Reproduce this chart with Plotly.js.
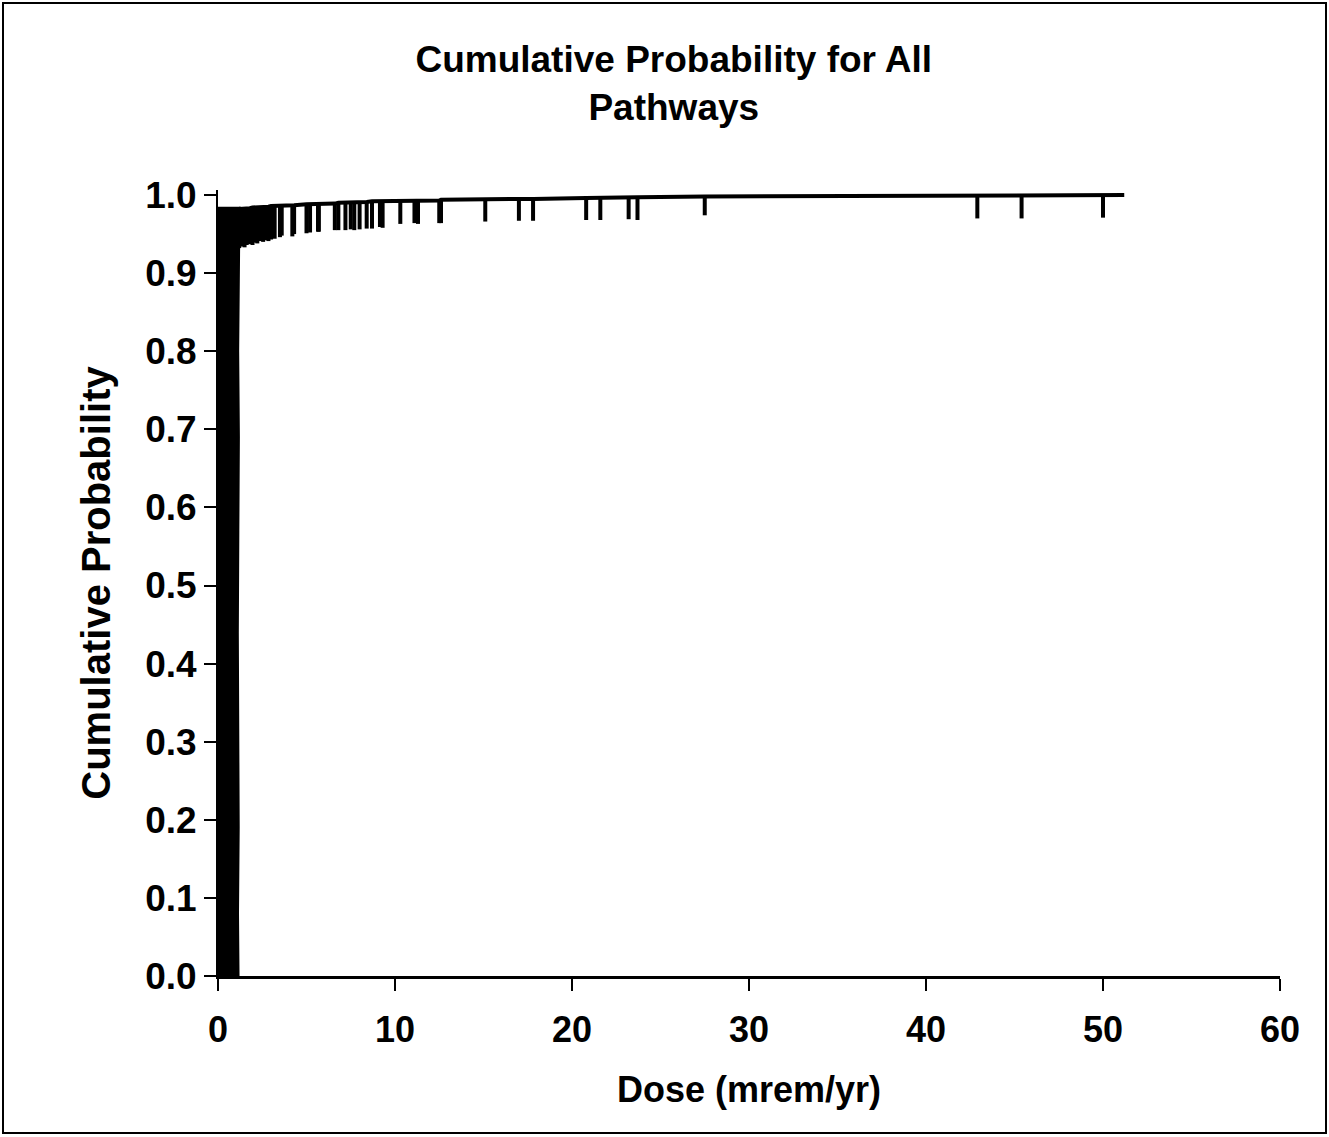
<!DOCTYPE html>
<html>
<head>
<meta charset="utf-8">
<script src="https://cdn.plot.ly/plotly-3.0.1.min.js"></script>
<style>
  html, body { margin: 0; padding: 0; background: #fff; }
  #wrap { position: relative; width: 1329px; height: 1137px; }
  #chart { width: 1329px; height: 1137px; }
  #frame { position: absolute; left: 2px; top: 2px; right: 2px; bottom: 3px;
           border: 2.5px solid #000; pointer-events: none; }
</style>
</head>
<body>
<div id="wrap">
  <div id="chart"></div>
  <div id="frame"></div>
</div>
<script>
// Low-dose samples (dense region, dose below ~1.2 mrem/yr)
const blockDose = [1.16, 1.13, 1.17, 1.14, 1.12, 1.15, 1.18, 1.14, 1.16, 1.2, 1.25];
const blockProb = [0.0, 0.08, 0.19, 0.31, 0.44, 0.57, 0.69, 0.8, 0.9, 0.95, 0.985];

// Upper tail of the distribution
const tailDose = [1.2, 1.35, 1.5, 1.62, 1.8, 1.95, 2.1, 2.22, 2.4, 2.55,
                  2.7, 2.85, 3.0, 3.2, 3.5, 3.6, 4.2, 4.3, 5.0, 5.2,
                  5.65, 5.7, 6.6, 6.8, 7.2, 7.5, 7.7, 8.0, 8.4, 8.7,
                  9.15, 9.3, 10.3, 11.1, 11.3, 12.5, 12.6, 15.1, 17.0, 17.8,
                  20.8, 21.6, 23.2, 23.7, 27.5, 42.9, 45.4, 50.0, 51.2];
const tailProb = [0.982, 0.982, 0.983, 0.983, 0.983, 0.984, 0.984, 0.984, 0.985, 0.985,
                  0.985, 0.985, 0.986, 0.986, 0.986, 0.986, 0.987, 0.987, 0.988, 0.988,
                  0.988, 0.989, 0.989, 0.99, 0.99, 0.99, 0.991, 0.991, 0.991, 0.992,
                  0.992, 0.992, 0.993, 0.993, 0.993, 0.993, 0.994, 0.994, 0.995, 0.995,
                  0.996, 0.996, 0.997, 0.997, 0.998, 0.999, 0.999, 1.0, 1.0];
// Downward extent of each sample's bar
const tailErrMinus = [0.05, 0.048, 0.05, 0.047, 0.046, 0.048, 0.045, 0.046, 0.044, 0.045,
                      0.043, 0.044, 0.043, 0.042, 0.04, 0.038, 0.04, 0.037, 0.037, 0.036,
                      0.035, 0.036, 0.034, 0.035, 0.035, 0.034, 0.036, 0.035, 0.034, 0.035,
                      0.033, 0.034, 0.03, 0.029, 0.03, 0.029, 0.03, 0.028, 0.028, 0.028,
                      0.028, 0.028, 0.028, 0.029, 0.024, 0.029, 0.029, 0.029, 0.0];

const xTicks = [0, 10, 20, 30, 40, 50, 60];
const yTicks = [0, 0.1, 0.2, 0.3, 0.4, 0.5, 0.6, 0.7, 0.8, 0.9, 1.0];

const FONT = 'Liberation Sans, Arial, Helvetica, sans-serif';

const traces = [
  {
    x: blockDose, y: blockProb, type: 'scatter', mode: 'lines',
    fill: 'tozerox', fillcolor: '#000',
    line: { color: '#000', width: 2 },
    hoverinfo: 'skip', showlegend: false
  },
  {
    x: tailDose, y: tailProb, type: 'scatter', mode: 'lines',
    line: { color: '#000', width: 4 },
    error_y: { type: 'data', symmetric: false, array: tailDose.map(() => 0),
               arrayminus: tailErrMinus, color: '#000', thickness: 4, width: 0 },
    showlegend: false
  }
];

const layout = {
  width: 1329, height: 1137,
  paper_bgcolor: '#fff', plot_bgcolor: '#fff',
  margin: { l: 218, r: 49, t: 190, b: 161, pad: 0 },
  showlegend: false,
  title: {
    text: 'Cumulative Probability for All<br>Pathways',
    font: { family: FONT, size: 37, color: '#000', weight: 700 },
    x: 0.507, xref: 'container', xanchor: 'center',
    y: 1 - 72 / 1137, yref: 'container', yanchor: 'top'
  },
  xaxis: {
    range: [0, 60], tickvals: xTicks, ticktext: xTicks.map(String),
    ticks: 'outside', ticklen: 12, tickwidth: 2, tickcolor: '#000',
    showline: true, linecolor: '#000', linewidth: 2.5,
    showgrid: false, zeroline: false, ticklabelstandoff: 8,
    tickfont: { family: FONT, size: 36, color: '#000', weight: 700 },
    title: { text: 'Dose (mrem/yr)', standoff: 28,
             font: { family: FONT, size: 36, color: '#000', weight: 700 } }
  },
  yaxis: {
    range: [0, 1.0064], tickvals: yTicks, tickformat: '.1f',
    ticks: 'outside', ticklen: 12, tickwidth: 2, tickcolor: '#000',
    showline: true, linecolor: '#000', linewidth: 2,
    showgrid: false, zeroline: false,
    tickfont: { family: FONT, size: 37, color: '#000', weight: 700 },
    title: { text: 'Cumulative Probability', standoff: 22,
             font: { family: FONT, size: 40, color: '#000', weight: 700 } }
  },
  xaxis2: {
    overlaying: 'x', anchor: 'y', side: 'bottom', range: [0, 60],
    tickvals: xTicks, ticks: 'inside', ticklen: 10, tickwidth: 2, tickcolor: '#000',
    showticklabels: false, showline: false, showgrid: false, zeroline: false
  },
  yaxis2: {
    overlaying: 'y', anchor: 'x', side: 'left', range: [0, 1.0064],
    tickvals: yTicks, ticks: 'inside', ticklen: 10, tickwidth: 2, tickcolor: '#000',
    showticklabels: false, showline: false, showgrid: false, zeroline: false
  }
};

Plotly.newPlot('chart', traces, layout, { displayModeBar: false, staticPlot: true });
</script>
</body>
</html>
